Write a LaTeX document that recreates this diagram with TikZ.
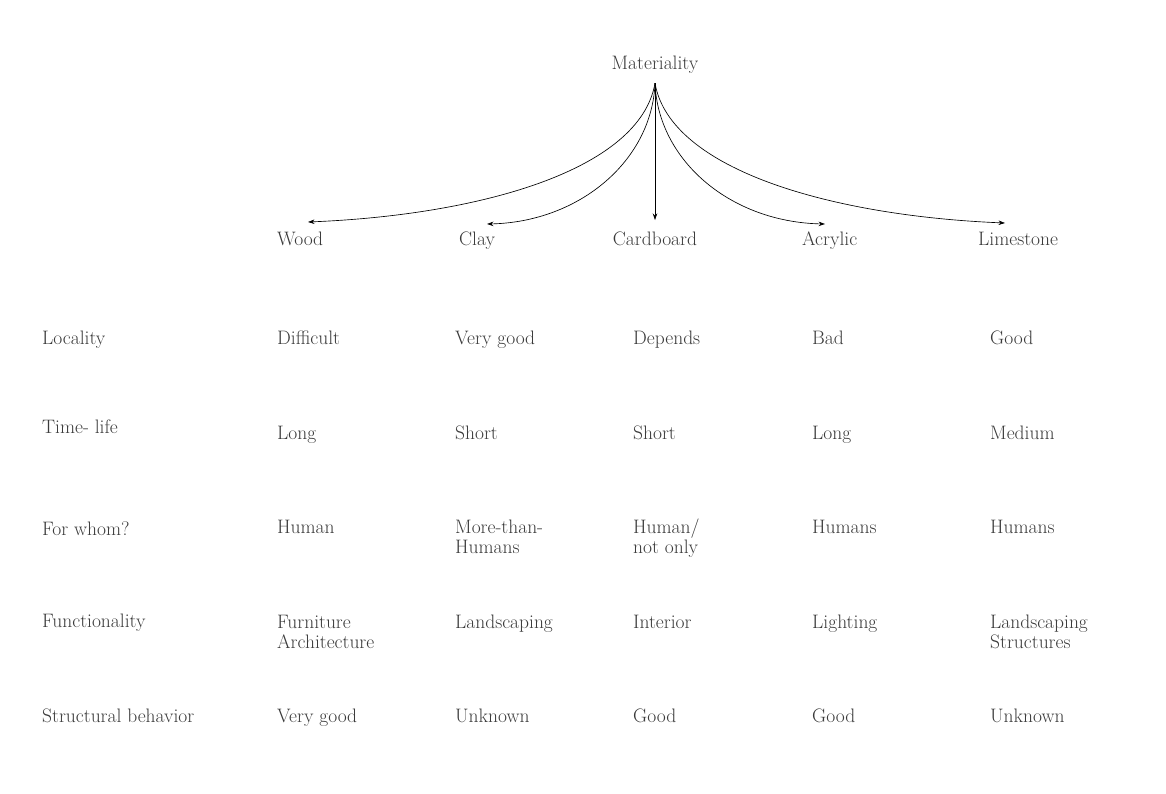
\documentclass[tikz,border=0pt]{standalone}
\usetikzlibrary{arrows.meta}
\definecolor{ink}{HTML}{3A3A3A}
\begin{document}
\begin{tikzpicture}[x=1pt,y=-1pt,
    lbl/.style={anchor=base west,inner sep=0pt,text=ink,align=left,
      font=\fontsize{19.5}{20}\selectfont},
    branch/.style={-{Stealth[length=6.5pt,width=4.5pt]},line width=0.65pt}]
  \useasboundingbox (0,0) rectangle (1166,793);
  % header
  \node[lbl,anchor=base] (mat) at (655,69) {Materiality};
  \node[lbl] (wood) at (277,245) {Wood};
  \node[lbl] (clay) at (459,245) {Clay};
  \node[lbl,anchor=base] (card) at (655,245) {Cardboard};
  \node[lbl] (acry) at (802,245) {Acrylic};
  \node[lbl] (lime) at (978,245) {Limestone};
  \coordinate (root) at ([yshift=-10pt]mat.south);
  \draw[branch] (root) .. controls +(-15,87) and +(172,-7) .. ([shift={(31,-23)}]wood.base west);
  \draw[branch] (root) .. controls +(-3,77) and +(93,-2) .. ([shift={(28,-21)}]clay.base west);
  \draw[branch] (root) -- ([yshift=25pt]card.base);
  \draw[branch] (root) .. controls +(3,77) and +(-95,-2) .. ([shift={(23,-21)}]acry.base west);
  \draw[branch] (root) .. controls +(15,87) and +(-172,-7) .. ([shift={(27,-22)}]lime.base west);
  % rows
  \node[lbl] (loc) at (42,344) {Locality};
  \node[lbl] (time) at (42,433) {Time- life};
  \node[lbl] (whom) at (42,535) {For whom?};
  \node[lbl] (func) at (42,627) {Functionality};
  \node[lbl] (struct) at (42,722) {Structural behavior};
  % values
  \node[lbl] (loc-wood) at (277,344) {Difficult};
  \node[lbl] (loc-clay) at (455,344) {Very good};
  \node[lbl] (loc-card) at (633,344) {Depends};
  \node[lbl] (loc-acry) at (812,344) {Bad};
  \node[lbl] (loc-lime) at (990,344) {Good};
  \node[lbl] (time-wood) at (277,439) {Long};
  \node[lbl] (time-clay) at (455,439) {Short};
  \node[lbl] (time-card) at (633,439) {Short};
  \node[lbl] (time-acry) at (812,439) {Long};
  \node[lbl] (time-lime) at (990,439) {Medium};
  \node[lbl] (whom-wood) at (277,533) {Human};
  \node[lbl] (whom-clay) at (455,553) {More-than-\\Humans};
  \node[lbl] (whom-card) at (633,553) {Human/\\not only};
  \node[lbl] (whom-acry) at (812,533) {Humans};
  \node[lbl] (whom-lime) at (990,533) {Humans};
  \node[lbl] (func-wood) at (277,648) {Furniture\\Architecture};
  \node[lbl] (func-clay) at (455,628) {Landscaping};
  \node[lbl] (func-card) at (633,628) {Interior};
  \node[lbl] (func-acry) at (812,628) {Lighting};
  \node[lbl] (func-lime) at (990,648) {Landscaping\\Structures};
  \node[lbl] (struct-wood) at (277,722) {Very good};
  \node[lbl] (struct-clay) at (455,722) {Unknown};
  \node[lbl] (struct-card) at (633,722) {Good};
  \node[lbl] (struct-acry) at (812,722) {Good};
  \node[lbl] (struct-lime) at (990,722) {Unknown};
\end{tikzpicture}
\end{document}
